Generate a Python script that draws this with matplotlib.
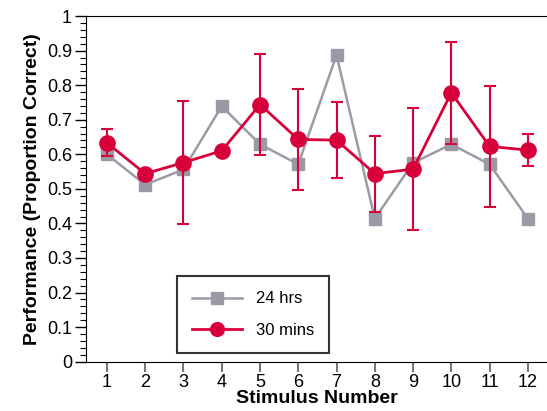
import numpy as np
import matplotlib
matplotlib.use('Agg')
import matplotlib.pyplot as plt
from matplotlib.ticker import MultipleLocator

plt.rcParams['font.family'] = ['Liberation Sans', 'DejaVu Sans']

# data
stimulus = [1, 2, 3, 4, 5, 6, 7, 8, 9, 10, 11, 12]
hrs24 = [0.60, 0.512, 0.556, 0.739, 0.629, 0.571, 0.887, 0.414, 0.575, 0.629, 0.571, 0.414]
mins30 = [0.633, 0.544, 0.576, 0.610, 0.744, 0.643, 0.641, 0.544, 0.557, 0.778, 0.623, 0.612]
mins30_err = [0.039, 0.0, 0.177, 0.0, 0.147, 0.146, 0.111, 0.110, 0.176, 0.148, 0.175, 0.047]
yticks = [0, 0.1, 0.2, 0.3, 0.4, 0.5, 0.6, 0.7, 0.8, 0.9, 1]
ylabels = ['0', '0.1', '0.2', '0.3', '0.4', '0.5', '0.6', '0.7', '0.8', '0.9', '1']

gray = '#9b9ba8'
red = '#d8003a'

fig = plt.figure(figsize=(5.47, 4.11), dpi=100)
ax = fig.add_axes([0.157, 0.12, 0.843, 0.841])

ax.plot(stimulus, hrs24, color=gray, lw=1.8, marker='s', ms=9,
        mfc='#999aa6', mec='#999aa6', label='24 hrs', zorder=2)
ax.errorbar(stimulus, mins30, yerr=mins30_err, fmt='none', ecolor=red,
            elinewidth=1.5, capsize=4, capthick=1.5, zorder=3)
ax.plot(stimulus, mins30, color=red, lw=2, marker='o', ms=11,
        mfc=red, mec=red, label='30 mins', zorder=4)

ax.set_xlim(0.45, 12.5)
ax.set_ylim(0, 1)
ax.set_xticks(stimulus)
ax.set_yticks(yticks)
ax.set_yticklabels(ylabels)
ax.yaxis.set_minor_locator(MultipleLocator(0.02))

ax.spines['right'].set_visible(False)
ax.tick_params(axis='both', labelsize=13, direction='out')
ax.tick_params(axis='y', which='major', length=8, width=1, pad=2)
ax.tick_params(axis='y', which='minor', length=4, width=0.8)
ax.tick_params(axis='x', which='major', length=7, width=1.5, color='#777777', pad=2)

ax.set_xlabel('Stimulus Number', fontsize=14, fontweight='bold', labelpad=-1)
ax.set_ylabel('Performance (Proportion Correct)', fontsize=14, fontweight='bold', labelpad=4)

leg = ax.legend(loc='lower left', bbox_to_anchor=(0.198, 0.025), fontsize=12,
                frameon=True, fancybox=False, edgecolor='black', borderpad=0.9,
                labelspacing=1.0, handlelength=3.0, borderaxespad=0, markerscale=0.9)
leg.get_frame().set_linewidth(1.5)

plt.savefig('out.png', dpi=100)
